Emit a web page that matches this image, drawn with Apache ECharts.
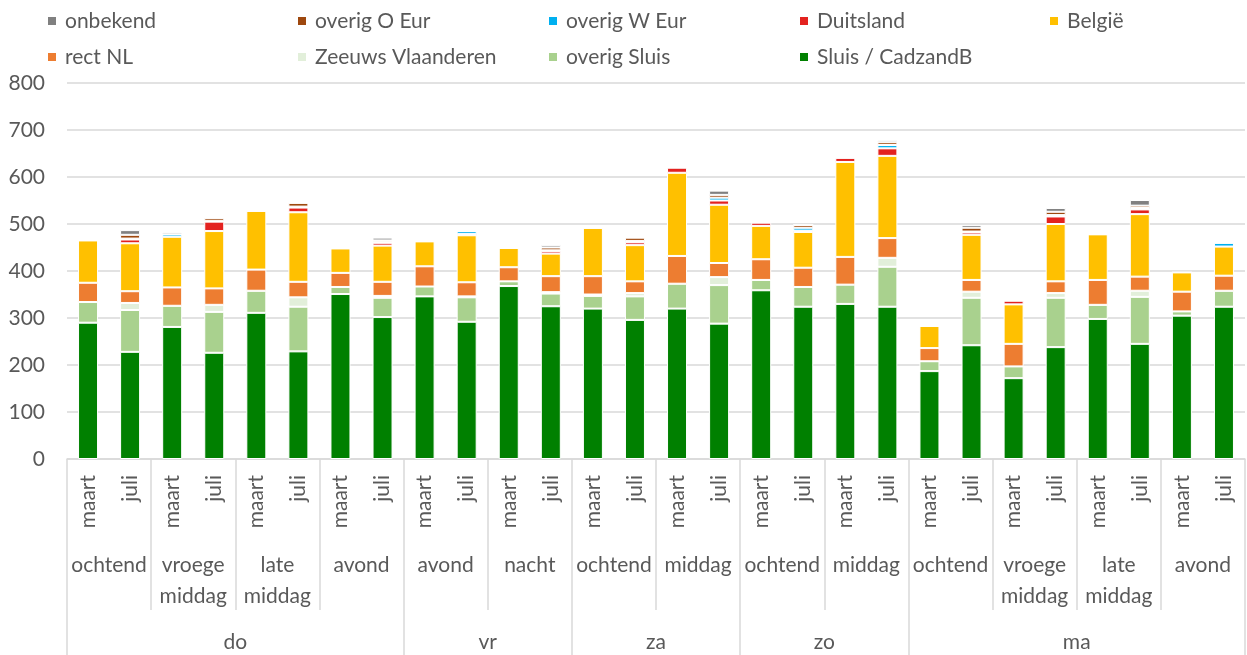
<!DOCTYPE html>
<html>
<head>
<meta charset="utf-8">
<script src="https://cdn.jsdelivr.net/npm/echarts@6/dist/echarts.min.js"></script>
<style>
  html, body { margin: 0; padding: 0; background: #fff; }
  #chart { width: 1247px; height: 655px; }
</style>
</head>
<body>
<div id="chart"></div>
<script>
// categorie-niveaus (onder naar boven: maand, dagdeel, dag)
var days = ['do', 'vr', 'za', 'zo', 'ma'];
var daySpans = [8, 4, 4, 4, 8]; // aantal staven per dag
var dayParts = ['ochtend', 'vroege\nmiddag', 'late\nmiddag', 'avond', 'avond', 'nacht', 'ochtend',
  'middag', 'ochtend', 'middag', 'ochtend', 'vroege\nmiddag', 'late\nmiddag', 'avond'];
var monthPair = ['maart', 'juli'];
var yTicks = [0, 100, 200, 300, 400, 500, 600, 700, 800];

// herkomst, van onder naar boven gestapeld
var sluisCadzand = [290, 228, 281, 226, 311, 229, 351, 302, 346, 292, 368, 325, 320, 296, 320, 288, 359, 324, 330, 324, 187, 242, 172, 238, 298, 245, 305, 324];
var overigSluis = [44, 89, 45, 87, 47, 95, 15, 41, 21, 52, 10, 27, 27, 50, 53, 82, 22, 42, 41, 85, 21, 101, 25, 105, 30, 100, 9, 34];
var zeeuwsVl = [0, 15, 0, 15, 0, 20, 0, 4, 0, 2, 0, 3, 3, 7, 0, 17, 0, 0, 0, 19, 0, 13, 0, 10, 0, 13, 0, 0];
var rectNL = [41, 25, 39, 35, 45, 33, 30, 30, 43, 30, 30, 34, 39, 25, 59, 30, 44, 41, 59, 42, 28, 25, 48, 25, 53, 30, 42, 32];
var belgie = [90, 102, 108, 122, 125, 148, 52, 77, 53, 100, 41, 48, 103, 77, 177, 124, 71, 76, 202, 175, 47, 96, 84, 122, 97, 133, 41, 62];
var duitsland = [0, 8, 0, 20, 0, 10, 0, 6, 0, 3, 0, 5, 0, 6, 11, 9, 7, 3, 9, 16, 0, 5, 8, 16, 0, 10, 0, 0];
var overigWEur = [0, 2, 5, 2, 0, 2, 0, 2, 0, 6, 0, 2, 0, 3, 0, 6, 0, 6, 0, 7, 0, 2, 0, 3, 0, 3, 0, 8];
var overigOEur = [0, 8, 0, 6, 0, 8, 0, 3, 0, 0, 0, 6, 0, 7, 0, 6, 0, 6, 0, 6, 0, 8, 0, 7, 0, 5, 0, 0];
var onbekend = [0, 10, 4, 0, 0, 0, 0, 6, 0, 0, 0, 5, 0, 0, 0, 9, 0, 0, 0, 4, 0, 6, 0, 8, 0, 12, 0, 0];

var FONT = 'Lato';
var TXT = '#595959';
var LINE = '#d9d9d9';

// maand-labels per staaf
var months = [];
dayParts.forEach(function () { months.push(monthPair[0], monthPair[1]); });

// dag-as: 29 grenzen, label midden in elke dag
var dayLabels = [];
var dayBounds = [0];
for (var i = 0; i <= months.length; i++) dayLabels.push('');
var pos = 0;
days.forEach(function (d, k) {
  dayLabels[pos + daySpans[k] / 2] = d;
  pos += daySpans[k];
  dayBounds.push(pos);
});

var seriesDefs = [
  { name: 'Sluis / CadzandB', data: sluisCadzand, color: '#008000' },
  { name: 'overig Sluis', data: overigSluis, color: '#a9d18e' },
  { name: 'Zeeuws Vlaanderen', data: zeeuwsVl, color: '#e2efda' },
  { name: 'rect NL', data: rectNL, color: '#ed7d31' },
  { name: 'België', data: belgie, color: '#ffc000' },
  { name: 'Duitsland', data: duitsland, color: '#e3221f' },
  { name: 'overig W Eur', data: overigWEur, color: '#00b0f0' },
  { name: 'overig O Eur', data: overigOEur, color: '#9e480e' },
  { name: 'onbekend', data: onbekend, color: '#808080' }
];

// legenda: twee rijen, vaste kolommen
var legendRows = [
  ['onbekend', 'overig O Eur', 'overig W Eur', 'Duitsland', 'België'],
  ['rect NL', 'Zeeuws Vlaanderen', 'overig Sluis', 'Sluis / CadzandB']
];
var legendCols = [46, 296, 547, 798, 1048];
var legendTops = [9, 45];
var legends = [];
legendRows.forEach(function (row, r) {
  row.forEach(function (name, c) {
    legends.push({
      data: [name],
      left: legendCols[c],
      top: legendTops[r],
      padding: 0,
      icon: 'rect',
      itemWidth: 10,
      itemHeight: 10,
      selectedMode: false,
      textStyle: { fontFamily: FONT, fontSize: 21, color: TXT, lineHeight: 24, padding: [0, 0, 0, 3] }
    });
  });
});

var myChart = echarts.init(document.getElementById('chart'), null, { renderer: 'canvas' });

var option = {
  animation: false,
  backgroundColor: '#fff',
  legend: legends,
  grid: { left: 67, right: 2, top: 83, bottom: 196, containLabel: false, outerBoundsMode: 'none' },
  xAxis: [{
    type: 'category',
    data: months,
    axisLine: { lineStyle: { color: LINE, width: 1.5 } },
    axisTick: {
      show: true, length: 151, lineStyle: { color: LINE, width: 1.5 },
      interval: function (idx) { return idx % 2 === 0; }
    },
    axisLabel: { rotate: 90, margin: 16, interval: 0, fontFamily: FONT, fontSize: 21, color: TXT },
    splitLine: { show: false }
  }, {
    type: 'category',
    data: dayParts,
    position: 'bottom',
    axisLine: { show: false },
    axisTick: { show: false },
    axisLabel: { margin: 91, interval: 0, fontFamily: FONT, fontSize: 21, color: TXT, lineHeight: 31 },
    splitLine: { show: false }
  }, {
    type: 'category',
    data: dayLabels,
    boundaryGap: false,
    position: 'bottom',
    axisLine: { show: false },
    axisTick: {
      show: true, length: 205, lineStyle: { color: LINE, width: 1.5 },
      interval: function (idx) { return dayBounds.indexOf(idx) >= 0; }
    },
    axisLabel: { margin: 168, interval: 0, fontFamily: FONT, fontSize: 21, color: TXT, lineHeight: 31 },
    splitLine: { show: false }
  }],
  yAxis: {
    type: 'value',
    min: yTicks[0],
    max: yTicks[yTicks.length - 1],
    interval: 100,
    axisLine: { show: false },
    axisTick: { show: false },
    axisLabel: { margin: 22, fontFamily: FONT, fontSize: 21, color: TXT },
    splitLine: { lineStyle: { color: LINE, width: 1.5 } }
  },
  series: seriesDefs.map(function (s) {
    return {
      name: s.name,
      type: 'bar',
      stack: 'herkomst',
      xAxisIndex: 0,
      barWidth: 20,
      data: s.data,
      itemStyle: { color: s.color, borderColor: '#fff', borderWidth: 1 },
      emphasis: { disabled: true }
    };
  })
};

myChart.setOption(option);
</script>
</body>
</html>
